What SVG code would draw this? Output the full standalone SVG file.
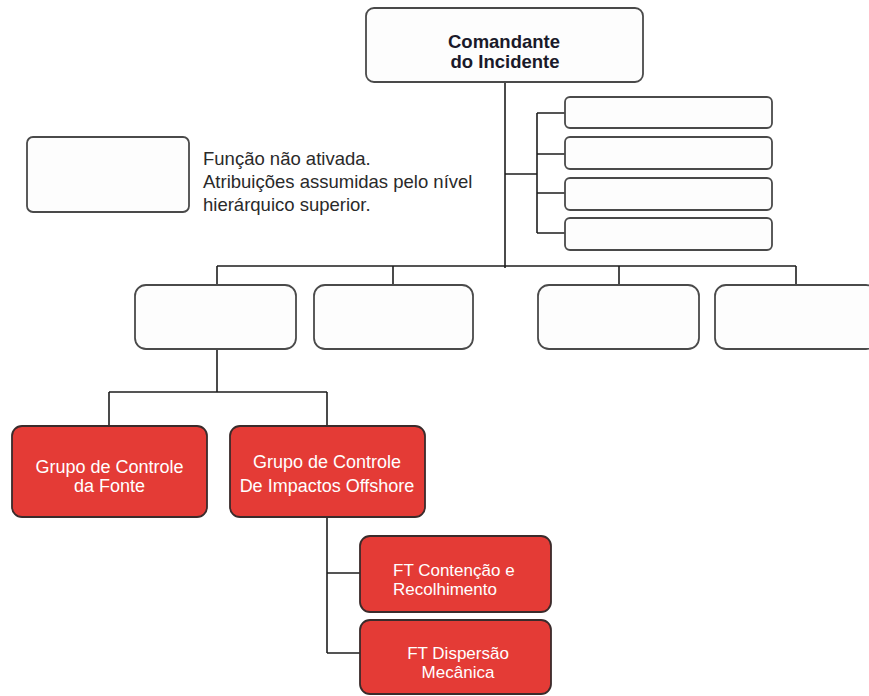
<svg xmlns="http://www.w3.org/2000/svg" width="869" height="696" viewBox="0 0 869 696">
<style>
.wbox{fill:#fdfdfd;stroke:#4a4a4a;stroke-width:1.8}
.rbox{fill:#e43b36;stroke:#3a2b2b;stroke-width:1.8}
.ln{fill:none;stroke:#1e1e1e;stroke-width:1.6}
.rt{font-family:"Liberation Sans",Arial,sans-serif;font-size:18px;fill:#ffffff;text-anchor:middle}
.ft{font-size:17px}
.st{text-anchor:start}
.bt{font-family:"Liberation Sans",Arial,sans-serif;font-size:18.5px;font-weight:bold;fill:#1a1a2a;text-anchor:middle}
.lt{font-family:"Liberation Sans",Arial,sans-serif;font-size:18.5px;fill:#2a2a2a}
</style>
<rect width="869" height="696" fill="#ffffff"/>
<g id="connectors">
<path class="ln" d="M505 83 V268"/>
<path class="ln" d="M505 174 H537 M537 113 V233 M537 113 H565 M537 154 H565 M537 193 H565 M537 233 H565"/>
<path class="ln" d="M217 266 H796 M217 266 V285 M393 266 V285 M619 266 V285 M796 266 V285"/>
<path class="ln" d="M217 349 V392 M109 392 H327 M109 392 V426 M327 392 V426"/>
<path class="ln" d="M327 517 V653 M327 573 H360 M327 653 H360"/>
</g>
<g id="comandante">
<rect class="wbox" x="366" y="8" width="277" height="74" rx="8"/>
<text class="bt" x="504" y="48">Comandante</text>
<text class="bt" x="505" y="68">do Incidente</text>
</g>
<g id="staff1"><rect class="wbox" x="565" y="97" width="207" height="31" rx="5"/></g>
<g id="staff2"><rect class="wbox" x="565" y="137" width="207" height="32" rx="5"/></g>
<g id="staff3"><rect class="wbox" x="565" y="178" width="207" height="32" rx="5"/></g>
<g id="staff4"><rect class="wbox" x="565" y="218" width="207" height="32" rx="5"/></g>
<g id="legend">
<rect class="wbox" x="27" y="137" width="162" height="75" rx="6"/>
<text class="lt" x="203" y="165">Função não ativada.</text>
<text class="lt" x="203" y="188">Atribuições assumidas pelo nível</text>
<text class="lt" x="203" y="211">hierárquico superior.</text>
</g>
<g id="section1"><rect class="wbox" x="135" y="285" width="161" height="64" rx="11"/></g>
<g id="section2"><rect class="wbox" x="314" y="285" width="159" height="64" rx="11"/></g>
<g id="section3"><rect class="wbox" x="538" y="285" width="161" height="64" rx="11"/></g>
<g id="section4"><rect class="wbox" x="715" y="285" width="162" height="64" rx="11"/></g>
<g id="grupo-fonte">
<rect class="rbox" x="12" y="426" width="195" height="91" rx="10"/>
<text class="rt" x="109.5" y="473">Grupo de Controle</text>
<text class="rt" x="109.5" y="492">da Fonte</text>
</g>
<g id="grupo-offshore">
<rect class="rbox" x="230" y="426" width="195" height="91" rx="10"/>
<text class="rt" x="327" y="468">Grupo de Controle</text>
<text class="rt" x="327" y="492">De Impactos Offshore</text>
</g>
<g id="ft-contencao">
<rect class="rbox" x="360" y="536" width="191" height="76" rx="10"/>
<text class="rt ft st" x="393" y="576">FT Contenção e</text>
<text class="rt ft st" x="393" y="595">Recolhimento</text>
</g>
<g id="ft-dispersao">
<rect class="rbox" x="360" y="620" width="191" height="74" rx="10"/>
<text class="rt ft" x="458" y="659">FT Dispersão</text>
<text class="rt ft" x="458" y="678">Mecânica</text>
</g>
</svg>
